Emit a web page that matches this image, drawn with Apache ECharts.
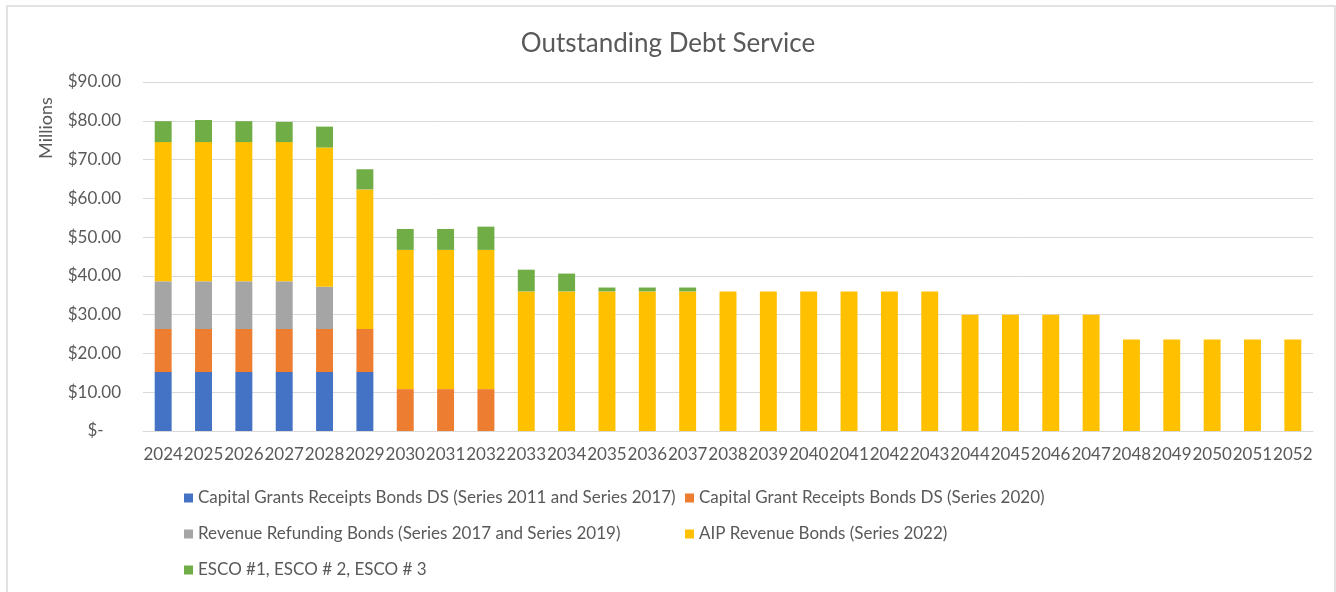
<!DOCTYPE html>
<html>
<head>
<meta charset="utf-8">
<title>Outstanding Debt Service</title>
<script src="https://cdn.jsdelivr.net/npm/echarts@6/dist/echarts.min.js"></script>
<style>
  html, body { margin: 0; padding: 0; background: #ffffff; }
  #chart { width: 1336px; height: 592px; }
</style>
</head>
<body>
<div id="chart"></div>
<script>
// Fiscal years on the category axis
const years = ['2024','2025','2026','2027','2028','2029','2030','2031','2032','2033','2034','2035','2036','2037','2038',
  '2039','2040','2041','2042','2043','2044','2045','2046','2047','2048','2049','2050','2051','2052'];

// Annual debt service by issue, in millions of dollars
const capitalGrants2011_2017 = [15.2, 15.2, 15.2, 15.2, 15.2, 15.2, 0, 0, 0, 0, 0, 0, 0, 0, 0,
  0, 0, 0, 0, 0, 0, 0, 0, 0, 0, 0, 0, 0, 0];
const capitalGrant2020 = [11.1, 11.1, 11.1, 11.1, 11.1, 11.1, 10.8, 10.8, 10.8, 0, 0, 0, 0, 0, 0,
  0, 0, 0, 0, 0, 0, 0, 0, 0, 0, 0, 0, 0, 0];
const revenueRefunding = [12.3, 12.3, 12.3, 12.3, 10.9, 0, 0, 0, 0, 0, 0, 0, 0, 0, 0,
  0, 0, 0, 0, 0, 0, 0, 0, 0, 0, 0, 0, 0, 0];
const aipRevenue2022 = [35.9, 35.9, 35.9, 35.9, 35.9, 36.0, 35.9, 35.9, 35.9, 36.0, 36.0, 36.0, 36.0, 36.0, 36.0,
  36.0, 36.0, 36.0, 36.0, 36.0, 30.0, 30.0, 30.0, 30.0, 23.6, 23.6, 23.6, 23.6, 23.6];
const esco = [5.4, 5.7, 5.4, 5.2, 5.4, 5.2, 5.4, 5.4, 6.0, 5.6, 4.6, 1.0, 1.0, 1.0, 0,
  0, 0, 0, 0, 0, 0, 0, 0, 0, 0, 0, 0, 0, 0];

// Y axis tick values
const yTicks = { min: 0, max: 90, interval: 10 };

const seriesNames = [
  'Capital Grants Receipts Bonds DS (Series 2011 and Series 2017)',
  'Capital Grant Receipts Bonds DS (Series 2020)',
  'Revenue Refunding Bonds (Series 2017 and Series 2019)',
  'AIP Revenue Bonds (Series 2022)',
  'ESCO #1, ESCO # 2, ESCO # 3'
];
const seriesData = [capitalGrants2011_2017, capitalGrant2020, revenueRefunding, aipRevenue2022, esco];
const seriesColors = ['#4472C4', '#ED7D31', '#A5A5A5', '#FFC000', '#70AD47'];

const textColor = '#595959';
const fontFamily = 'Lato, "Open Sans", sans-serif';

const chart = echarts.init(document.getElementById('chart'), null, { renderer: 'canvas' });

// Two legend columns, stacked vertically, so the rows line up
const legendCommon = {
  orient: 'vertical',
  icon: 'rect',
  itemWidth: 9,
  itemHeight: 9,
  itemGap: 18,
  top: 484,
  textStyle: { color: textColor, fontSize: 17, fontFamily: fontFamily, lineHeight: 18 },
  selectedMode: false
};

chart.setOption({
  backgroundColor: '#ffffff',
  animation: false,
  textStyle: { fontFamily: fontFamily },
  title: {
    text: 'Outstanding Debt Service',
    left: 'center',
    top: 26,
    textStyle: { color: textColor, fontSize: 26, fontWeight: 'normal', fontFamily: fontFamily }
  },
  graphic: [
    {
      // chart frame
      type: 'rect',
      shape: { x: 7, y: 6, width: 1328, height: 600 },
      style: { fill: 'none', stroke: '#d9d9d9', lineWidth: 1.5 },
      silent: true,
      z: -1
    },
    {
      // value-axis unit label, rotated to read bottom-to-top
      type: 'text',
      x: 46,
      y: 128,
      rotation: Math.PI / 2,
      silent: true,
      style: {
        text: 'Millions',
        fill: textColor,
        fontSize: 18,
        fontFamily: fontFamily,
        align: 'center',
        verticalAlign: 'middle'
      }
    }
  ],
  legend: [
    Object.assign({ left: 179, data: [seriesNames[0], seriesNames[2], seriesNames[4]] }, legendCommon),
    Object.assign({ left: 680, data: [seriesNames[1], seriesNames[3]] }, legendCommon)
  ],
  grid: { left: 143, right: 23, top: 82, bottom: 161, containLabel: false },
  xAxis: {
    type: 'category',
    data: years,
    axisLine: { lineStyle: { color: '#d9d9d9', width: 1 } },
    axisTick: { show: false },
    axisLabel: { color: textColor, fontSize: 17, margin: 15, interval: 0, fontFamily: fontFamily }
  },
  yAxis: {
    type: 'value',
    min: yTicks.min,
    max: yTicks.max,
    interval: yTicks.interval,
    axisLine: { show: false },
    axisTick: { show: false },
    splitLine: { lineStyle: { color: '#d9d9d9', width: 1 } },
    axisLabel: {
      color: textColor,
      fontSize: 17,
      margin: 22,
      fontFamily: fontFamily,
      formatter: function (v) { return v === 0 ? '$-    ' : '$' + v.toFixed(2); }
    }
  },
  series: seriesNames.map(function (name, i) {
    return {
      name: name,
      type: 'bar',
      stack: 'debt',
      barWidth: '42%',
      data: seriesData[i],
      itemStyle: { color: seriesColors[i] },
      emphasis: { disabled: true }
    };
  })
});
</script>
</body>
</html>
